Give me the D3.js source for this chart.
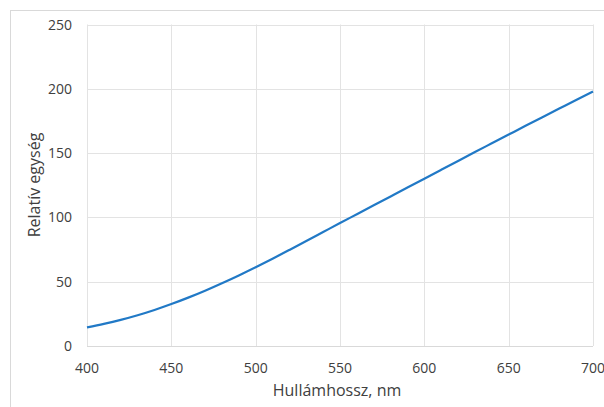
<!DOCTYPE html>
<html>
<head>
<meta charset="utf-8">
<script src="https://cdn.jsdelivr.net/npm/d3@7"></script>
<style>
  body { margin: 0; background: #fff; }
  text { font-family: "Open Sans", "DejaVu Sans", sans-serif; fill: #404040; }
</style>
</head>
<body>
<div id="chart"></div>
<script>
// wavelength (nm) and relative unit
const wavelength = [400, 410, 420, 430, 440, 450, 460, 470, 480, 490, 500,
    510, 520, 530, 540, 550, 560, 570, 580, 590, 600,
    610, 620, 630, 640, 650, 660, 670, 680, 690, 700];
const relValue = [14.5, 17.2, 20.3, 23.9, 28.0, 32.6, 37.6, 43.0, 48.8, 54.9, 61.3,
    67.9, 74.7, 81.6, 88.6, 95.6, 102.5, 109.4, 116.3, 123.2, 130.1,
    137.0, 143.9, 150.8, 157.6, 164.4, 171.2, 177.9, 184.6, 191.3, 197.9];
const xTicks = [400, 450, 500, 550, 600, 650, 700];
const yTicks = [0, 50, 100, 150, 200, 250];

const width = 604, height = 407;
const margin = { left: 87, right: 11, top: 24.5, bottom: 61 };

const svg = d3.select("#chart")
    .append("svg")
    .attr("width", width)
    .attr("height", height);

// outer chart frame, runs off the right / bottom edge
svg.append("rect")
    .attr("x", 10.5)
    .attr("y", 10.5)
    .attr("width", width)
    .attr("height", height)
    .attr("fill", "none")
    .attr("stroke", "#d9d9d9");

const x = d3.scaleLinear()
    .domain([400, 700])
    .range([margin.left, width - margin.right]);

const y = d3.scaleLinear()
    .domain([0, 250])
    .range([height - margin.bottom, margin.top]);

// grid
svg.append("g")
    .selectAll("line")
    .data(xTicks)
    .enter().append("line")
    .attr("x1", d => Math.round(x(d)) + 0.5)
    .attr("x2", d => Math.round(x(d)) + 0.5)
    .attr("y1", y(0))
    .attr("y2", y(250))
    .attr("stroke", "#e3e3e3");

svg.append("g")
    .selectAll("line")
    .data(yTicks)
    .enter().append("line")
    .attr("x1", x(400))
    .attr("x2", x(700))
    .attr("y1", d => Math.round(y(d)) + 0.5)
    .attr("y2", d => Math.round(y(d)) + 0.5)
    .attr("stroke", d => d == 0 ? "#d9d9d9" : "#e3e3e3");

// tick labels
svg.append("g")
    .selectAll("text")
    .data(xTicks)
    .enter().append("text")
    .attr("x", d => x(d))
    .attr("y", 373)
    .attr("text-anchor", "middle")
    .attr("font-size", 14)
    .text(d => d);

svg.append("g")
    .selectAll("text")
    .data(yTicks)
    .enter().append("text")
    .attr("x", 72)
    .attr("y", d => y(d) + 5)
    .attr("text-anchor", "end")
    .attr("font-size", 14)
    .text(d => d);

// curve
const line = d3.line()
    .x((d, i) => x(wavelength[i]))
    .y(d => y(d))
    .curve(d3.curveMonotoneX);

svg.append("path")
    .datum(relValue)
    .attr("fill", "none")
    .attr("stroke", "#2179c6")
    .attr("stroke-width", 2.2)
    .attr("d", line);

// axis titles
svg.append("text")
    .attr("x", 337)
    .attr("y", 396)
    .attr("text-anchor", "middle")
    .attr("font-size", 16)
    .text("Hullámhossz, nm");

svg.append("text")
    .attr("transform", "translate(40,185) rotate(-90)")
    .attr("text-anchor", "middle")
    .attr("font-size", 16)
    .text("Relatív egység");
</script>
</body>
</html>
